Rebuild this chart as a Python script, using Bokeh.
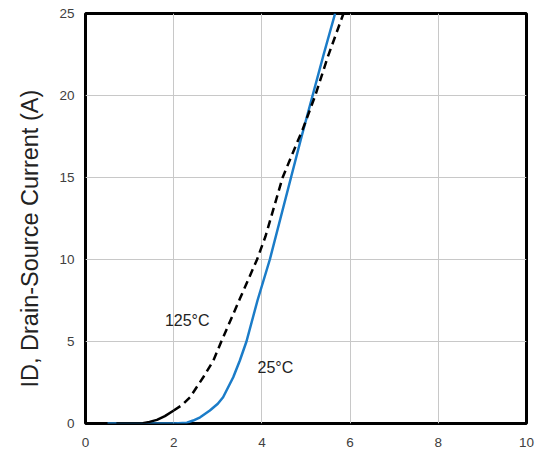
from bokeh.plotting import figure
from bokeh.models import Range1d, FixedTicker, Label, Title
from bokeh.embed import file_html
from bokeh.resources import INLINE

# 25°C curve
vgs_25 = [0.5, 1.0, 1.5, 2.0, 2.3, 2.44, 2.6, 2.82, 3.0, 3.12, 3.35, 3.5, 3.65,
          3.9, 4.18, 4.42, 4.66, 4.9, 5.15, 5.4, 5.66]
id_25 = [0, 0, 0, 0, 0.05, 0.18, 0.38, 0.79, 1.2, 1.6, 2.82, 3.84, 5.0,
         7.5, 10.0, 12.5, 15.0, 17.5, 20.0, 22.5, 25.0]

# 125°C curve
vgs_125 = [0.7, 1.0, 1.3, 1.45, 1.62, 1.8, 2.0, 2.2, 2.37, 2.67, 2.9, 3.08,
           3.5, 3.89, 4.08, 4.47, 4.7, 4.92, 5.21, 5.5, 5.85]
id_125 = [0, 0, 0.02, 0.1, 0.22, 0.45, 0.79, 1.15, 1.6, 2.82, 3.84, 5.0,
          7.6, 10.0, 11.4, 15.0, 16.5, 17.9, 20.0, 22.4, 25.0]

x_ticks = [0, 2, 4, 6, 8, 10]
y_ticks = [0, 5, 10, 15, 20, 25]

p = figure(width=536, height=450, output_backend="svg", toolbar_location=None,
           x_range=Range1d(0, 10), y_range=Range1d(0, 25),
           min_border_left=85, min_border_right=10, min_border_top=13, min_border_bottom=27)

p.outline_line_color = "black"
p.outline_line_width = 3
p.background_fill_color = "white"
p.border_fill_color = "white"

for ax in (p.xaxis, p.yaxis):
    ax.axis_line_color = None
    ax.major_tick_line_color = None
    ax.minor_tick_line_color = None
    ax.major_label_text_font = "Liberation Sans"
    ax.major_label_text_font_size = "13.5px"
    ax.major_label_text_color = "#404040"
p.yaxis.major_label_standoff = 5
p.xaxis.major_label_standoff = 8

p.xaxis.ticker = FixedTicker(ticks=x_ticks)
p.yaxis.ticker = FixedTicker(ticks=y_ticks)

p.xgrid.grid_line_color = "#c8c8c8"
p.ygrid.grid_line_color = "#c8c8c8"
p.xgrid.ticker = FixedTicker(ticks=x_ticks)
p.ygrid.ticker = FixedTicker(ticks=y_ticks)

p.line(vgs_25, id_25, line_color="#1b7cc8", line_width=2.5)

split = vgs_125.index(2.0)
p.line(vgs_125[:split + 1], id_125[:split + 1], line_color="black", line_width=2.5)
p.line(vgs_125[split:], id_125[split:], line_color="black", line_width=2.5,
       line_dash="8 5")

p.add_layout(Label(x=1.8, y=6.3, text="125°C", text_font="Liberation Sans",
                   text_font_size="16px", text_color="#222222",
                   text_baseline="middle"))
p.add_layout(Label(x=3.9, y=3.4, text="25°C", text_font="Liberation Sans",
                   text_font_size="16px", text_color="#222222",
                   text_baseline="middle"))

# y-axis title, set a little below the frame centre as in the original
ytitle = Title(text="ID, Drain-Source Current (A)", align="left", offset=36,
               text_font="Liberation Sans", text_font_size="23.5px",
               text_font_style="normal", text_color="#222222", standoff=27)
p.add_layout(ytitle, "left")

open("out.html", "w").write(file_html(p, INLINE))
